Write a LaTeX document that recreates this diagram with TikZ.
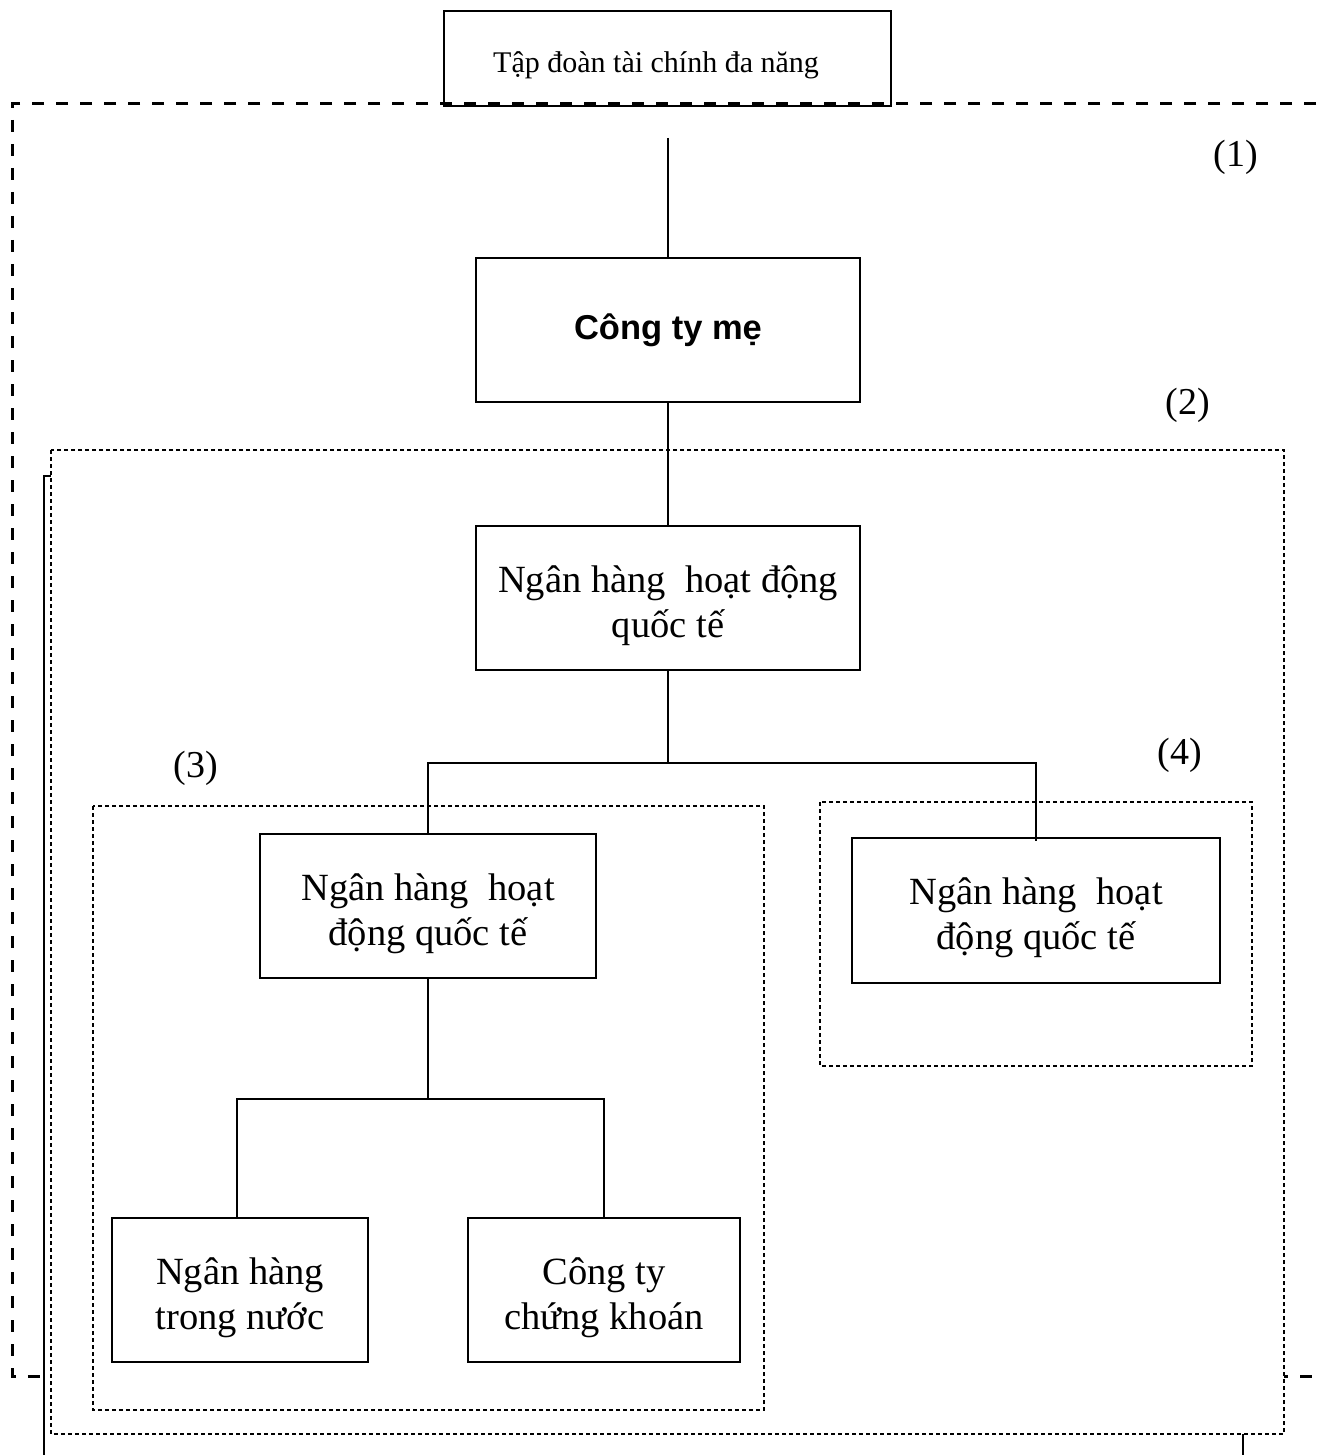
\documentclass[tikz,border=0pt]{standalone}
\usepackage{fontspec}
\setmainfont{Liberation Serif}
\newfontfamily\boxsans{Liberation Sans}
\newcommand{\lowerby}{\rule{0pt}{42pt}}
\begin{document}
\begin{tikzpicture}[x=1pt,y=-1pt,
  orgbox/.style={draw,line width=2pt,fill=white,align=center,inner sep=0pt,
    font=\fontsize{38.5}{45}\selectfont},
  conn/.style={line width=1.6pt},
  bigdash/.style={line width=3pt,dash pattern=on 12pt off 12pt},
  finedash/.style={line width=1.2pt,dash pattern=on 4pt off 3pt},
  numlab/.style={font=\fontsize{38}{42}\selectfont,inner sep=0pt}]
\useasboundingbox (0,0) rectangle (1321,1455);
\clip (0,0) rectangle (1321,1455);
\fill[white] (0,0) rectangle (1321,1455);
% top box
\node[draw,line width=2pt,minimum width=447pt,minimum height=95pt,inner sep=0pt] (top) at (667.5,58.5) {};
\node[anchor=west,inner sep=0pt,font=\fontsize{30}{35}\selectfont] (toptext) at (493,65) {Tập đoàn tài chính đa năng};
% big dashed group (1)
\draw[bigdash] (1340,104) -- (12,104) -- (12,1376) -- (1340,1376);
% solid bracket behind group (2)
\draw[line width=2pt] (44,1480) -- (44,476) -- (1243,476) -- (1243,1480);
% group (2)
\draw[finedash,fill=white] (51,450) rectangle (1284,1434);
% group (3)
\draw[finedash] (93,806) rectangle (764,1410);
% group (4)
\draw[finedash] (820,802) rectangle (1252,1066);
% boxes
\node[orgbox,minimum width=384pt,minimum height=144pt,font=\boxsans\bfseries\fontsize{34.5}{40}\selectfont] (me) at (668,330) {\rule{0pt}{24pt}Công ty mẹ};
\node[orgbox,minimum width=384pt,minimum height=144pt] (nhqt) at (668,598) {\lowerby Ngân hàng\ \ hoạt động\\quốc tế};
\node[orgbox,minimum width=336pt,minimum height=144pt] (left) at (428,906) {\lowerby Ngân hàng\ \ hoạt\\động quốc tế};
\node[orgbox,minimum width=368pt,minimum height=145pt] (right) at (1036,910.5) {\lowerby Ngân hàng\ \ hoạt\\động quốc tế};
\node[orgbox,minimum width=256pt,minimum height=144pt] (bl) at (240,1290) {\lowerby Ngân hàng\\trong nước};
\node[orgbox,minimum width=272pt,minimum height=144pt] (br) at (604,1290) {\lowerby Công ty\\chứng khoán};
% connectors
\coordinate (topend) at (668,138);
\draw[conn] (topend) -- (me.north);
\draw[conn] (me.south) -- (nhqt.north);
\draw[conn] (nhqt.south) -- ++(0,92) -| (left.north);
\draw[conn] (nhqt.south) ++(0,92) -| ([yshift=-4pt]right.north);
\draw[conn] (left.south) -- ++(0,120) -| ([xshift=-3pt]bl.north);
\draw[conn] (left.south) ++(0,120) -| (br.north);
% labels
\node[numlab] (l1) at (1236,157) {(1)};
\node[numlab] (l2) at (1188,405) {(2)};
\node[numlab] (l3) at (196,768) {(3)};
\node[numlab] (l4) at (1180,755) {(4)};
\end{tikzpicture}
\end{document}
